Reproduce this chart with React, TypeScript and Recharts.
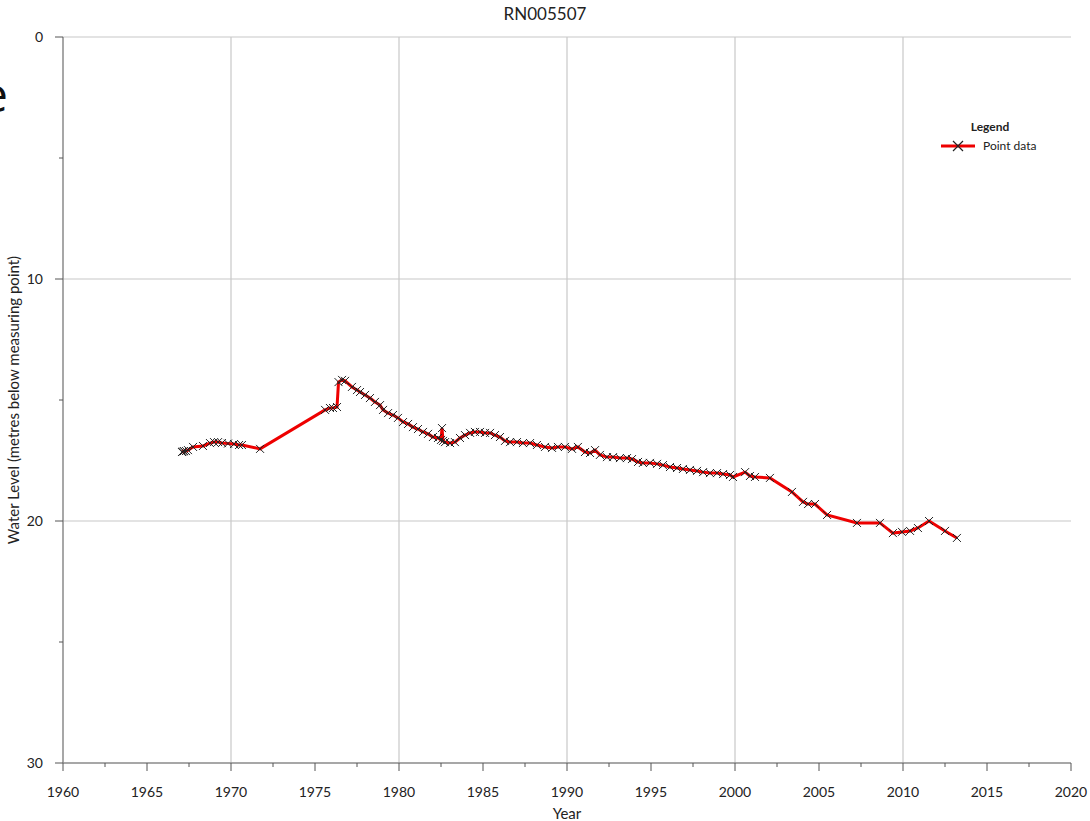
import React from 'react';
import { LineChart, Line, XAxis, YAxis, ReferenceLine } from 'recharts';

// decimal years of each reading
const years = [
  1967.08, 1967.14, 1967.2, 1967.32, 1967.44, 1967.74, 1968.33, 1968.75, 1968.99, 1969.23,
  1969.46, 1969.82, 1970.18, 1970.48, 1970.65, 1971.73, 1975.6, 1975.89, 1976.07, 1976.31,
  1976.4, 1976.61, 1976.79, 1977.2, 1977.5, 1977.68, 1977.98, 1978.27, 1978.57, 1978.87,
  1979.05, 1979.35, 1979.64, 1979.94, 1980.24, 1980.54, 1980.83, 1981.13, 1981.43, 1981.73,
  1982.02, 1982.32, 1982.5, 1982.56, 1982.62, 1982.74, 1983.04, 1983.33, 1983.63, 1983.93,
  1984.23, 1984.52, 1984.82, 1985.12, 1985.42, 1985.71, 1986.01, 1986.31, 1986.61, 1987.02,
  1987.38, 1987.8, 1988.21, 1988.69, 1989.11, 1989.46, 1989.88, 1990.3, 1990.65, 1991.07,
  1991.37, 1991.67, 1991.96, 1992.38, 1992.74, 1993.15, 1993.57, 1993.87, 1994.23, 1994.52,
  1994.94, 1995.36, 1995.71, 1996.13, 1996.55, 1996.9, 1997.32, 1997.74, 1998.1, 1998.51,
  1998.93, 1999.29, 1999.7, 1999.88, 2000.6, 2000.89, 2001.19, 2002.08, 2003.39, 2004.05,
  2004.35, 2004.76, 2005.48, 2007.26, 2008.63, 2009.4, 2009.94, 2010.42, 2010.89, 2011.55,
  2012.5, 2013.21,
];

// metres below measuring point
const levels = [
  17.15, 17.13, 17.11, 17.11, 17.07, 16.94, 16.9, 16.78, 16.74, 16.74,
  16.78, 16.8, 16.82, 16.86, 16.86, 17.02, 15.41, 15.33, 15.33, 15.29,
  14.26, 14.17, 14.21, 14.46, 14.59, 14.67, 14.79, 14.92, 15.08, 15.21,
  15.41, 15.54, 15.62, 15.74, 15.91, 15.99, 16.12, 16.2, 16.32, 16.4,
  16.53, 16.57, 16.65, 16.16, 16.69, 16.74, 16.78, 16.74, 16.57, 16.45,
  16.36, 16.32, 16.32, 16.36, 16.36, 16.45, 16.53, 16.69, 16.74, 16.74,
  16.78, 16.78, 16.86, 16.94, 16.98, 16.94, 16.94, 17.02, 16.94, 17.15,
  17.19, 17.07, 17.27, 17.36, 17.36, 17.4, 17.4, 17.44, 17.56, 17.6,
  17.6, 17.64, 17.69, 17.77, 17.81, 17.85, 17.89, 17.93, 17.98, 18.02,
  18.02, 18.06, 18.1, 18.18, 17.98, 18.14, 18.18, 18.22, 18.8, 19.21,
  19.3, 19.3, 19.75, 20.08, 20.08, 20.5, 20.45, 20.41, 20.29, 20.0,
  20.41, 20.7,
];

const xTicks = [
  1960, 1962.5, 1965, 1967.5, 1970, 1972.5, 1975, 1977.5, 1980, 1982.5, 1985, 1987.5,
  1990, 1992.5, 1995, 1997.5, 2000, 2002.5, 2005, 2007.5, 2010, 2012.5, 2015, 2017.5, 2020,
];
const yTicks = [0, 5, 10, 15, 20, 25, 30];
const xGrid = [1970, 1980, 1990, 2000, 2010];
const yGrid = [0, 10, 20];

const data = years.map((year, i) => ({ year, level: levels[i] }));

const FONT = 'Lato, "Open Sans", sans-serif';
const GRID = '#c8c8c8';
const AXIS = '#8a8a8a';

const XTick = (props: any) => {
  const { x, y, payload } = props;
  const major = payload.value % 5 === 0;
  return (
    <g>
      <line x1={x} x2={x} y1={y} y2={y + (major ? 8 : 4)} stroke="#555" strokeWidth={1} />
      {major && (
        <text x={x} y={y + 34} textAnchor="middle" fontSize={14} fill="#222" fontFamily={FONT}>
          {payload.value}
        </text>
      )}
    </g>
  );
};

const YTick = (props: any) => {
  const { x, y, payload } = props;
  const major = payload.value % 10 === 0;
  return (
    <g>
      <line x1={x - (major ? 8 : 4)} x2={x} y1={y} y2={y} stroke="#555" strokeWidth={1} />
      {major && (
        <text x={x - 20} y={y + 5} textAnchor="end" fontSize={14} fill="#222" fontFamily={FONT}>
          {payload.value}
        </text>
      )}
    </g>
  );
};

const Cross = (props: any) => {
  const { cx, cy, index } = props;
  if (cx == null || cy == null) return <g key={index} />;
  const s = 4;
  return (
    <path
      key={index}
      d={`M${cx - s},${cy - s}L${cx + s},${cy + s}M${cx - s},${cy + s}L${cx + s},${cy - s}`}
      stroke="#222"
      strokeWidth={1}
      fill="none"
    />
  );
};

export default function App() {
  return (
    <div style={{ position: 'absolute', left: 0, top: 0, width: 1090, height: 821, background: '#fff' }}>
      <LineChart width={1090} height={821} data={data} margin={{ top: 37, right: 19, bottom: 0, left: 0 }}>
        {xGrid.map((v) => (
          <ReferenceLine key={`gx${v}`} x={v} stroke={GRID} strokeWidth={1.2} />
        ))}
        {yGrid.map((v) => (
          <ReferenceLine key={`gy${v}`} y={v} stroke={GRID} strokeWidth={1.2} />
        ))}
        <XAxis
          dataKey="year"
          type="number"
          domain={[1960, 2020]}
          ticks={xTicks}
          interval={0}
          height={58}
          tickSize={0}
          tickMargin={0}
          tickLine={false}
          tick={<XTick />}
          axisLine={{ stroke: AXIS, strokeWidth: 1.5 }}
          label={{ value: 'Year', position: 'insideBottom', offset: 2, fontSize: 15, fill: '#222', fontFamily: FONT }}
        />
        <YAxis
          type="number"
          domain={[0, 30]}
          reversed
          ticks={yTicks}
          interval={0}
          width={63}
          tickSize={0}
          tickMargin={0}
          tickLine={false}
          tick={<YTick />}
          axisLine={{ stroke: AXIS, strokeWidth: 1.5 }}
          label={{
            value: 'Water Level (metres below measuring point)',
            angle: -90,
            position: 'insideLeft',
            offset: 0,
            dx: 14,
            fontSize: 15,
            fill: '#222',
            fontFamily: FONT,
            style: { textAnchor: 'middle' },
          }}
        />
        <Line
          type="linear"
          dataKey="level"
          name="Point data"
          stroke="#ee0000"
          strokeWidth={3}
          dot={<Cross />}
          activeDot={false}
          isAnimationActive={false}
        />
      </LineChart>
      <svg
        width={1090}
        height={821}
        style={{ position: 'absolute', left: 0, top: 0, pointerEvents: 'none' }}
      >
        <text x={545} y={20} textAnchor="middle" fontSize={17} fill="#222" fontFamily={FONT}>
          RN005507
        </text>
        <text x={8} y={112} textAnchor="end" fontSize={48} fill="#111" fontFamily='"Open Sans", sans-serif'>
          e
        </text>
        <g>
          <text x={990} y={131} textAnchor="middle" fontSize={12} fontWeight="bold" fill="#222" fontFamily={FONT}>
            Legend
          </text>
          <line x1={941} x2={975} y1={146} y2={146} stroke="#ee0000" strokeWidth={3} />
          <path d="M953,141L963,151M953,151L963,141" stroke="#222" strokeWidth={1.2} />
          <text x={983} y={150} fontSize={12} fill="#222" fontFamily={FONT}>
            Point data
          </text>
        </g>
      </svg>
    </div>
  );
}
